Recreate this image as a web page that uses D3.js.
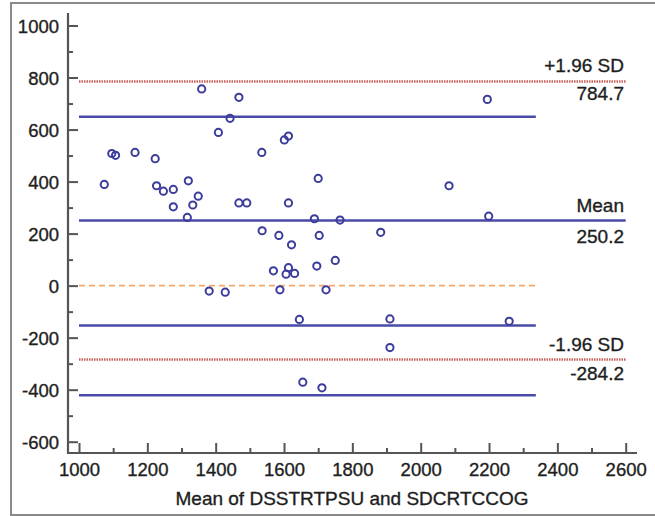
<!DOCTYPE html>
<html>
<head>
<meta charset="utf-8">
<script src="https://cdn.jsdelivr.net/npm/d3@7"></script>
<style>
  body { margin: 0; background: #fff; }
  text { font-family: "Liberation Sans", Arial, sans-serif; fill: #1e1e1e; stroke: #1e1e1e; stroke-width: 0.35px; }
</style>
</head>
<body>
<div id="chart"></div>
<script>
// means (x) and differences (y)
var meanVals = [1359, 1442, 1408, 1096, 1107, 1164, 1223, 1074, 1227, 1247, 1276, 1320, 1349, 1276, 1333, 1317,
    1468, 1601, 1613, 1535, 1700, 1468, 1491, 1613, 1689, 1764,
    1536, 1585, 1622, 1703, 1569, 1613, 1606, 1631, 1696, 1750, 1381, 1428, 1588, 1723, 1645, 1655, 1711,
    2195, 2083, 2199, 1883, 1910, 2259, 1910];
var diffVals = [756, 643, 589, 508, 501, 512, 488, 389, 384, 363, 370, 403, 344, 303, 310, 262,
    724, 560, 575, 512, 412, 318, 318, 318, 257, 252,
    211, 193, 157, 193, 57, 69, 44, 47, 75, 97, -21, -25, -16, -16, -130, -371, -393,
    716, 384, 267, 205, -128, -137, -238];

var xTicks = [1000, 1200, 1400, 1600, 1800, 2000, 2200, 2400, 2600];
var yTicks = [-600, -400, -200, 0, 200, 400, 600, 800, 1000];

var meanDiff = 250.2;
var upperLoA = 784.7;
var lowerLoA = -284.2;
var blueLines = [649, -153, -421];   // shorter blue lines
var shortEnd = 2337;

var width = 655, height = 516;

var svg = d3.select("#chart").append("svg")
    .attr("width", width)
    .attr("height", height);

// grey frame
svg.append("rect")
    .attr("x", 11).attr("y", 3)
    .attr("width", 660).attr("height", 512)
    .attr("fill", "none")
    .attr("stroke", "#8a8a8a")
    .attr("stroke-width", 2);

var x = d3.scaleLinear().domain([1000, 2600]).range([79, 625.7]);
var y = d3.scaleLinear().domain([-600, 1000]).range([441.7, 25.5]);

var axisX = 68, axisY = 453;
var fmt = d => String(d);

// reference lines
function hline(v, x2, color, w, dash) {
    svg.append("line")
        .attr("x1", x(1000)).attr("x2", x(x2))
        .attr("y1", y(v)).attr("y2", y(v))
        .attr("stroke", color)
        .attr("stroke-width", w)
        .attr("stroke-dasharray", dash);
}
hline(upperLoA, 2600, "#c9605a", 2.5, "1.5,1");
hline(lowerLoA, 2600, "#c9605a", 2.5, "1.5,1");
hline(meanDiff, 2600, "#4a4aa8", 2.5, null);
blueLines.forEach(function (v) { hline(v, shortEnd, "#4a4aa8", 2.5, null); });
hline(0, shortEnd, "#f5a868", 1.6, "6,4");

// points
svg.append("g")
    .selectAll("circle")
    .data(meanVals)
    .join("circle")
    .attr("cx", (d, i) => x(d))
    .attr("cy", (d, i) => y(diffVals[i]))
    .attr("r", 3.6)
    .attr("fill", "none")
    .attr("stroke", "#3c3c9c")
    .attr("stroke-width", 2);

// axes
var gy = svg.append("g").attr("transform", "translate(" + axisX + ",0)");
gy.call(d3.axisLeft(y).tickValues(yTicks).tickFormat(fmt).tickSizeInner(-10).tickSizeOuter(0).tickPadding(9));
gy.append("g").call(d3.axisLeft(y).tickValues(d3.range(-500, 1000, 200)).tickSizeInner(-5).tickSizeOuter(0).tickFormat(""));

var gx = svg.append("g").attr("transform", "translate(0," + axisY + ")");
gx.call(d3.axisBottom(x).tickValues(xTicks).tickFormat(fmt).tickSizeInner(-10).tickSizeOuter(0).tickPadding(10));
gx.append("g").call(d3.axisBottom(x).tickValues(d3.range(1100, 2600, 200)).tickSizeInner(-5).tickSizeOuter(0).tickFormat(""));

svg.selectAll(".domain").remove();
svg.selectAll(".tick line").attr("stroke", "#555").attr("stroke-width", 2);
svg.selectAll(".tick text").style("font-size", "18.5px").attr("font-family", null).attr("fill", "#1e1e1e");
gy.selectAll(".tick text").attr("dy", "0.36em");

svg.append("line")
    .attr("x1", axisX).attr("x2", axisX)
    .attr("y1", 13).attr("y2", axisY + 1)
    .attr("stroke", "#555").attr("stroke-width", 2.2);
svg.append("line")
    .attr("x1", axisX - 1).attr("x2", 637)
    .attr("y1", axisY).attr("y2", axisY)
    .attr("stroke", "#555").attr("stroke-width", 2.2);

// labels at right
function rlabel(t, yy) {
    svg.append("text")
        .attr("x", 624).attr("y", yy)
        .attr("text-anchor", "end")
        .style("font-size", "19px")
        .text(t);
}
rlabel("+1.96 SD", 71.5);
rlabel("784.7", 100);
rlabel("Mean", 212);
rlabel("250.2", 243);
rlabel("-1.96 SD", 351);
rlabel("-284.2", 380);

svg.append("text")
    .attr("x", 352).attr("y", 505)
    .attr("text-anchor", "middle")
    .style("font-size", "19px")
    .text("Mean of DSSTRTPSU and SDCRTCCOG");
</script>
</body>
</html>
